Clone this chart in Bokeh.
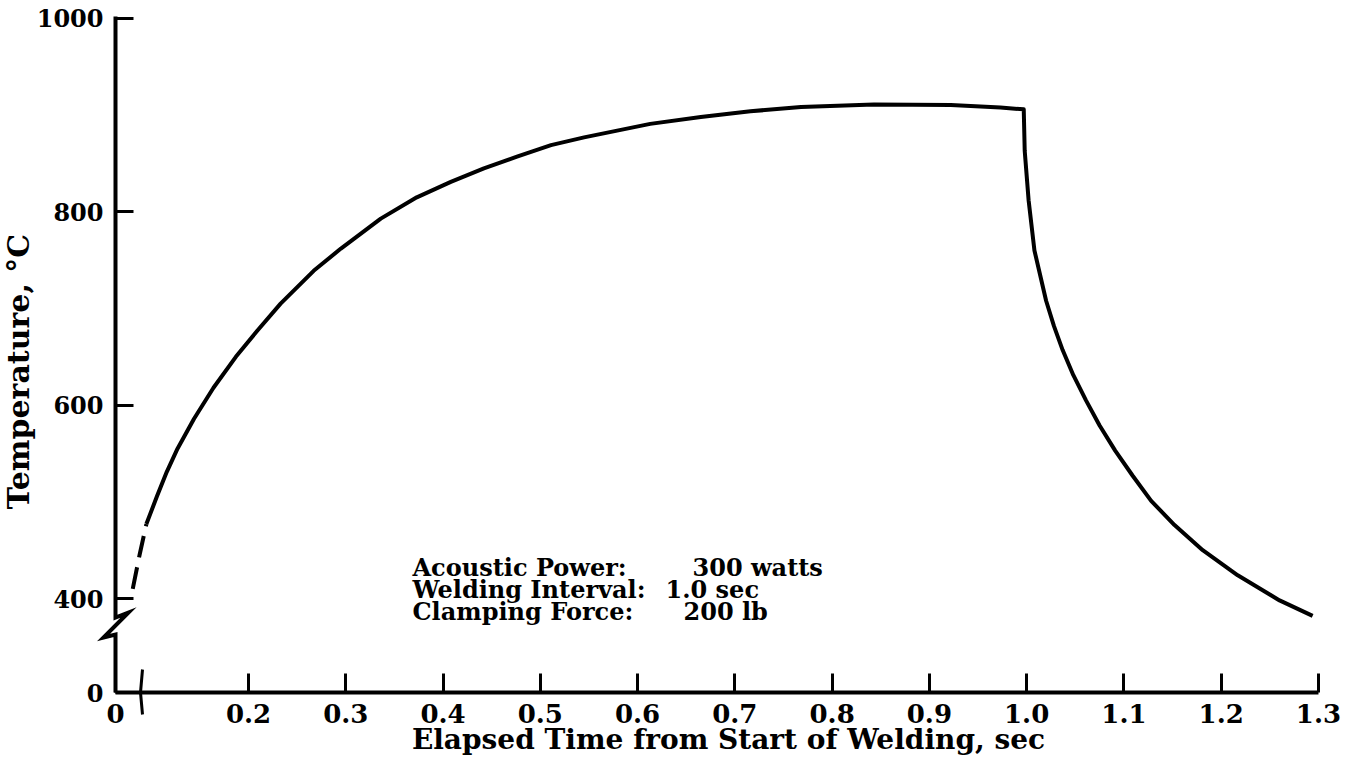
from bokeh.plotting import figure
from bokeh.models import Range1d, FixedTicker, ColumnDataSource
from bokeh.embed import file_html
from bokeh.resources import INLINE
from bokeh.core.properties import value
import math

# ---------------- data ----------------
time_dashed = [0.081, 0.088, 0.095]
temp_dashed = [410, 445, 477]

time_solid = [0.095, 0.106, 0.116, 0.127, 0.144, 0.164, 0.187, 0.209, 0.233, 0.267,
              0.295, 0.336, 0.373, 0.408, 0.442, 0.476, 0.511, 0.545, 0.579, 0.613,
              0.665, 0.716, 0.768, 0.843, 0.922, 0.973, 0.997,
              0.998, 1.002, 1.008, 1.020, 1.028, 1.037, 1.048, 1.061, 1.075,
              1.091, 1.109, 1.128, 1.152, 1.181, 1.217, 1.260, 1.294]
temp_solid = [477, 506, 531, 555, 586, 618, 650, 677, 705, 739,
              762, 793, 815, 831, 845, 857, 869, 877, 884, 891,
              898, 904, 908.5, 911, 910.5, 908, 906,
              863, 812, 760, 708, 682, 657, 631, 605, 579,
              553, 527, 501, 476, 450, 424, 398, 382]

x_ticks = [0.2, 0.3, 0.4, 0.5, 0.6, 0.7, 0.8, 0.9, 1.0, 1.1, 1.2, 1.3]
x_tick_labels = ["0.2", "0.3", "0.4", "0.5", "0.6", "0.7", "0.8", "0.9", "1.0", "1.1", "1.2", "1.3"]
y_ticks = [400, 600, 800, 1000]
y_tick_labels = ["400", "600", "800", "1000"]
origin_label = "0"

note_keys = ["Acoustic Power:", "Welding Interval:", "Clamping Force:"]
note_vals = ["300 watts", "1.0 sec", "200 lb"]

x_title = "Elapsed Time from Start of Welding, sec"
y_title = "Temperature, \u00b0C"

# ---------------- layout ----------------
FONT = "DejaVu Serif"
PX_PER_X = 972.7      # screen px per second
PX_PER_Y = 0.96667    # screen px per degree
FRAME_W = 1226
FRAME_H = 678
X0 = 0.2 - 133 / PX_PER_X          # broken-axis origin (labelled 0)
X_END = X0 + FRAME_W / PX_PER_X
Y0 = 400 - 94 / PX_PER_Y           # broken-axis origin (labelled 0)
Y_END = Y0 + FRAME_H / PX_PER_Y


def dx(px):
    return px / PX_PER_X


def dy(px):
    return px / PX_PER_Y


p = figure(frame_width=FRAME_W, frame_height=FRAME_H,
           x_range=Range1d(X0 - 1e-6, X_END), y_range=Range1d(Y0 - 1e-6, Y_END),
           output_backend="svg", toolbar_location=None, tools="",
           min_border_left=115, min_border_right=4, min_border_top=14, min_border_bottom=58)
p.background_fill_color = "white"
p.border_fill_color = "white"
p.outline_line_color = None
p.xgrid.visible = False
p.ygrid.visible = False

# x axis
xa = p.xaxis[0]
xa.ticker = FixedTicker(ticks=[X0] + x_ticks)
ov = {X0: origin_label}
for t, l in zip(x_ticks, x_tick_labels):
    ov[t] = l
xa.major_label_overrides = ov
xa.axis_line_color = None
xa.major_tick_in = 19
xa.major_tick_out = 0
xa.major_tick_line_width = 3
xa.major_tick_line_color = "black"
xa.minor_tick_line_color = None
xa.major_label_standoff = 11
xa.major_label_text_font = FONT
xa.major_label_text_font_style = "bold"
xa.major_label_text_font_size = "26px"
xa.major_label_text_color = "black"
xa.axis_label = x_title
xa.axis_label_text_font = FONT
xa.axis_label_text_font_style = "bold"
xa.axis_label_text_font_size = "28px"
xa.axis_label_text_color = "black"
xa.axis_label_standoff = -3

# y axis
ya = p.yaxis[0]
ya.ticker = FixedTicker(ticks=[Y0] + y_ticks)
ov = {Y0: origin_label}
for t, l in zip(y_ticks, y_tick_labels):
    ov[t] = l
ya.major_label_overrides = ov
ya.axis_line_color = None
ya.major_tick_in = 18
ya.major_tick_out = 0
ya.major_tick_line_width = 3
ya.major_tick_line_color = "black"
ya.minor_tick_line_color = None
ya.major_label_standoff = 12
ya.major_label_orientation = "horizontal"
ya.major_label_text_font = FONT
ya.major_label_text_font_style = "bold"
ya.major_label_text_font_size = "24px"
ya.major_label_text_color = "black"

# hand-drawn axis lines with breaks
yl = p.line([X0, X0, X0 + dx(13), X0 - dx(12), X0, X0],
            [1000 + dy(2), Y0 + dy(75), Y0 + dy(80), Y0 + dy(55), Y0 + dy(58), Y0],
            line_color="black", line_width=4, line_join="miter")
yl.level = "overlay"
xl = p.line([X0, x_ticks[-1]], [Y0, Y0], line_color="black", line_width=4)
xl.level = "overlay"
xb = p.line([X0 + dx(27), X0 + dx(25), X0 + dx(27)],
            [Y0 + dy(23), Y0, Y0 - dy(22)],
            line_color="black", line_width=3)
xb.level = "overlay"

# curve
p.line(time_dashed, temp_dashed, line_color="black", line_width=4, line_dash="22 10")
p.line(time_solid, temp_solid, line_color="black", line_width=4, line_join="round")

# notes
note_src = ColumnDataSource(dict(
    x=[X0 + dx(297)] * 3,
    y=[Y0 + dy(125), Y0 + dy(103), Y0 + dy(81)],
    t=note_keys))
val_src = ColumnDataSource(dict(
    x=[X0 + dx(577), X0 + dx(550), X0 + dx(568)],
    y=[Y0 + dy(125), Y0 + dy(103), Y0 + dy(81)],
    t=note_vals))
for src in (note_src, val_src):
    p.text(x="x", y="y", text="t", source=src, text_font=value(FONT),
           text_font_style="bold", text_font_size="24px", text_color="black",
           text_align="left", text_baseline="middle")

# y title (overlay level so it is drawn outside the frame)
yt = p.text(x=[X0 - dx(97)], y=[Y0 + dy(321)], text=[y_title], angle=math.pi / 2,
            text_font=value(FONT), text_font_style="bold", text_font_size="30px",
            text_color="black", text_align="center", text_baseline="middle")
yt.level = "overlay"

open("out.html", "w").write(file_html(p, INLINE))
